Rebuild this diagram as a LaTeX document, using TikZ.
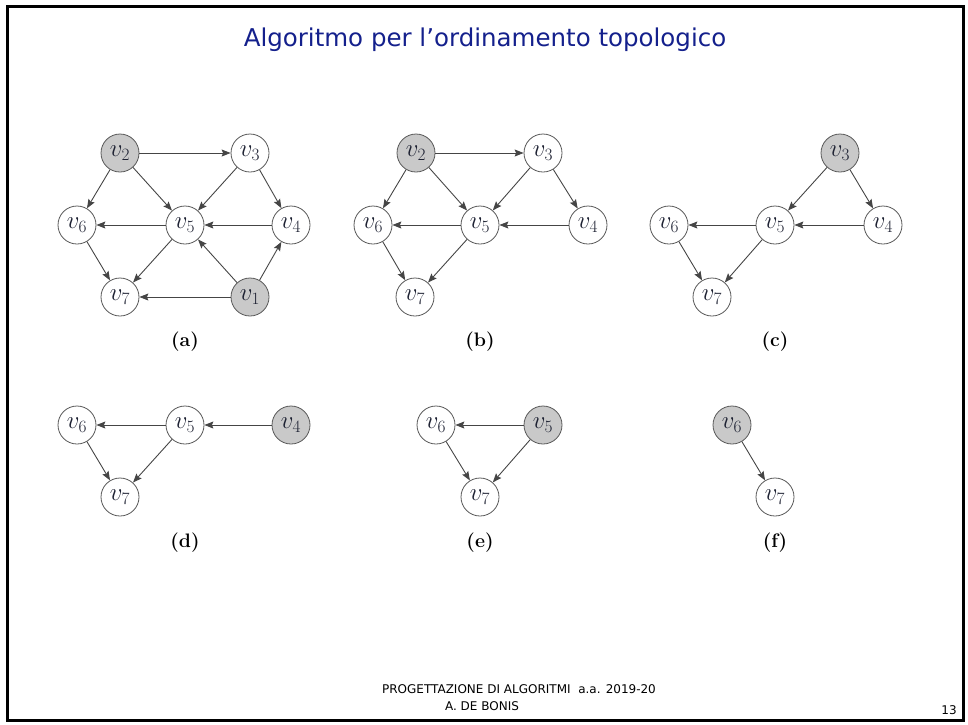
\documentclass[tikz,border=0pt]{standalone}
\usepackage{fontspec}
\usetikzlibrary{arrows.meta}
\newfontfamily\titlefont{DejaVu Sans}
\newfontfamily\footfont{DejaVu Sans}
\definecolor{titleblue}{HTML}{14208C}
\definecolor{vgray}{HTML}{C9C9C9}
\definecolor{edgegray}{HTML}{454545}
\definecolor{vtext}{HTML}{1E2233}
\begin{document}
\begin{tikzpicture}[x=1pt,y=-1pt,
  vert/.style={circle,draw=edgegray!90,line width=0.8pt,fill=white,minimum size=38pt,inner sep=0pt,
    text=vtext,font=\fontsize{24}{26}\selectfont},
  src/.style={vert,fill=vgray},
  arc/.style={draw=edgegray,line width=0.9pt,-{Stealth[length=9pt,width=7pt,inset=1.5pt]}},
  panellabel/.style={font=\fontsize{19.5}{21}\selectfont\bfseries},
]
\useasboundingbox (0,0) rectangle (968,724);
% frame of the slide
\draw[line width=3pt] (7,6) rectangle (963,720);
% title and footer
\node[font=\titlefont\fontsize{24.5}{30}\selectfont,text=titleblue] (title) at (485,40) {Algoritmo per l’ordinamento topologico};
\node[font=\footfont\fontsize{12}{14}\selectfont] (course) at (519,689) {PROGETTAZIONE DI ALGORITMI\ \ a.a. 2019-20};
\node[font=\footfont\fontsize{12}{14}\selectfont] (author) at (482,706) {A. DE BONIS};
\node[font=\footfont\fontsize{12}{13}\selectfont] (page) at (949,710) {13};

% (a) full graph
\node[src]  (a2) at (120,153) {$v_2$};
\node[vert] (a3) at (250,153) {$v_3$};
\node[vert] (a6) at (77,225)  {$v_6$};
\node[vert] (a5) at (185,225) {$v_5$};
\node[vert] (a4) at (291,225) {$v_4$};
\node[vert] (a7) at (120,297) {$v_7$};
\node[src]  (a1) at (250,297) {$v_1$};
\node[panellabel] (la) at (185,342) {(a)};
\foreach \s/\t in {a2/a3,a2/a6,a2/a5,a3/a5,a3/a4,a4/a5,a5/a6,a6/a7,a5/a7,a1/a7,a1/a5,a1/a4}
  \draw[arc] (\s) -- (\t);

% (b) after removing v1
\node[src]  (b2) at (416,153) {$v_2$};
\node[vert] (b3) at (543,153) {$v_3$};
\node[vert] (b6) at (373,225) {$v_6$};
\node[vert] (b5) at (480,225) {$v_5$};
\node[vert] (b4) at (588,225) {$v_4$};
\node[vert] (b7) at (415,297) {$v_7$};
\node[panellabel] (lb) at (480,342) {(b)};
\foreach \s/\t in {b2/b3,b2/b6,b2/b5,b3/b5,b3/b4,b4/b5,b5/b6,b6/b7,b5/b7}
  \draw[arc] (\s) -- (\t);

% (c) after removing v2
\node[src]  (c3) at (840,153) {$v_3$};
\node[vert] (c6) at (669,225) {$v_6$};
\node[vert] (c5) at (775,225) {$v_5$};
\node[vert] (c4) at (883,225) {$v_4$};
\node[vert] (c7) at (712,297) {$v_7$};
\node[panellabel] (lc) at (775,342) {(c)};
\foreach \s/\t in {c3/c5,c3/c4,c4/c5,c5/c6,c6/c7,c5/c7}
  \draw[arc] (\s) -- (\t);

% (d) after removing v3
\node[vert] (d6) at (77,425)  {$v_6$};
\node[vert] (d5) at (185,425) {$v_5$};
\node[src]  (d4) at (291,425) {$v_4$};
\node[vert] (d7) at (120,497) {$v_7$};
\node[panellabel] (ld) at (185,543) {(d)};
\foreach \s/\t in {d4/d5,d5/d6,d6/d7,d5/d7}
  \draw[arc] (\s) -- (\t);

% (e) after removing v4
\node[vert] (e6) at (436,425) {$v_6$};
\node[src]  (e5) at (543,425) {$v_5$};
\node[vert] (e7) at (480,497) {$v_7$};
\node[panellabel] (le) at (480,543) {(e)};
\foreach \s/\t in {e5/e6,e6/e7,e5/e7}
  \draw[arc] (\s) -- (\t);

% (f) after removing v5
\node[src]  (f6) at (732,425) {$v_6$};
\node[vert] (f7) at (775,497) {$v_7$};
\node[panellabel] (lf) at (775,543) {(f)};
\draw[arc] (f6) -- (f7);
\end{tikzpicture}
\end{document}
